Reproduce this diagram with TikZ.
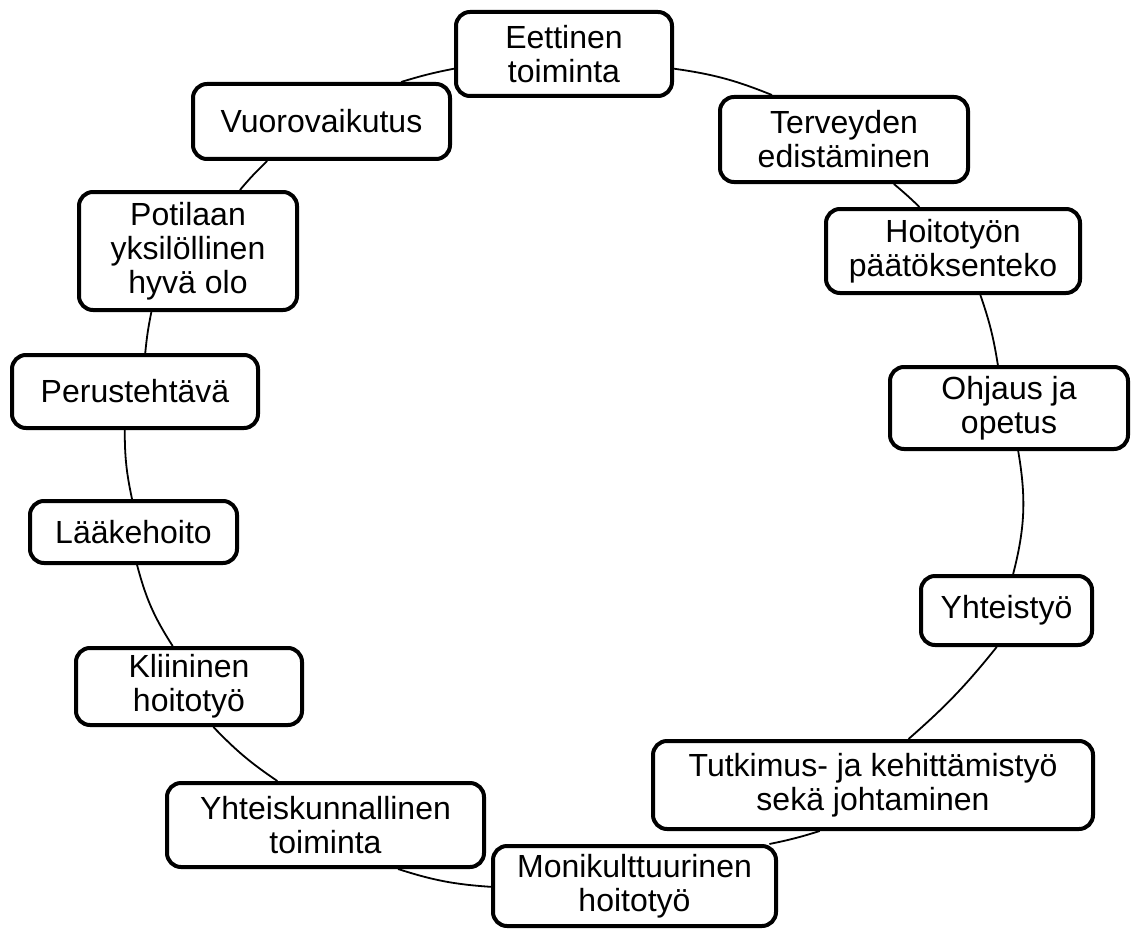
\documentclass[tikz,border=0pt]{standalone}
\usepackage{fontspec}
\setmainfont{Liberation Sans}
\usetikzlibrary{calc,backgrounds}
\begin{document}
\begin{tikzpicture}[x=1pt,y=-1pt,
  box/.style={draw=black, line width=4pt, rounded corners=14pt, fill=white,
    align=center, inner sep=0pt, font=\fontsize{32}{34}\selectfont},
  conn/.style={draw=black, line width=1.8pt}]
\useasboundingbox (0,0) rectangle (1131,928);
\node[box, minimum width=216pt, minimum height=84pt] (eet) at (564,54) {Eettinen\\toiminta};
\node[box, minimum width=248pt, minimum height=85pt] (ter) at (844,139.5) {Terveyden\\edistäminen};
\node[box, minimum width=254pt, minimum height=84pt] (hoi) at (953,251) {Hoitotyön\\päätöksenteko};
\node[box, minimum width=238pt, minimum height=82pt] (ohj) at (1009,408) {Ohjaus ja\\opetus};
\node[box, minimum width=171pt, minimum height=69pt] (yht) at (1006.5,610.5) {Yhteistyö};
\node[box, minimum width=440pt, minimum height=88pt] (tut) at (873,785) {Tutkimus- ja kehittämistyö\\sekä johtaminen};
\node[box, minimum width=283pt, minimum height=80pt] (mon) at (634.5,886) {Monikulttuurinen\\hoitotyö};
\node[box, minimum width=317pt, minimum height=84pt] (yks) at (325.5,825) {Yhteiskunnallinen\\toiminta};
\node[box, minimum width=226pt, minimum height=77pt] (kli) at (189,686.5) {Kliininen\\hoitotyö};
\node[box, minimum width=207pt, minimum height=62pt] (laa) at (133.5,532) {Lääkehoito};
\node[box, minimum width=246pt, minimum height=73pt] (per) at (135,391.5) {Perustehtävä};
\node[box, minimum width=218pt, minimum height=118pt] (pot) at (188,251) {Potilaan\\yksilöllinen\\hyvä olo};
\node[box, minimum width=257pt, minimum height=75pt] (vuo) at (321.5,121.5) {Vuorovaikutus};
\begin{pgfonlayer}{background}
\draw[conn] ($(vuo.north west)!0.805!(vuo.north east)$) to[bend left=3] ($(eet.north west)!0.667!(eet.south west)$);
\draw[conn] ($(eet.north east)!0.667!(eet.south east)$) to[bend left=7] ($(ter.north west)!0.214!(ter.north east)$);
\draw[conn] ($(ter.south west)!0.698!(ter.south east)$) to[bend left=2] ($(hoi.north west)!0.370!(hoi.north east)$);
\draw[conn] ($(hoi.south west)!0.606!(hoi.south east)$) to[bend left=5] ($(ohj.north west)!0.454!(ohj.north east)$);
\draw[conn] ($(ohj.south west)!0.538!(ohj.south east)$) to[bend left=12] ($(yht.north west)!0.538!(yht.north east)$);
\draw[conn] ($(yht.south west)!0.444!(yht.south east)$) to[bend left=5] ($(tut.north west)!0.580!(tut.north east)$);
\draw[conn] ($(tut.south west)!0.380!(tut.south east)$) to[bend left=3] ($(mon.north west)!0.97!(mon.north east)$);
\draw[conn] ($(mon.north west)!0.51!(mon.south west)$) to[bend left=7] ($(yks.south west)!0.726!(yks.south east)$);
\draw[conn] ($(yks.north west)!0.350!(yks.north east)$) to[bend left=6] ($(kli.south west)!0.606!(kli.south east)$);
\draw[conn] ($(kli.north west)!0.429!(kli.north east)$) to[bend left=9] ($(laa.south west)!0.517!(laa.south east)$);
\draw[conn] ($(laa.north west)!0.493!(laa.north east)$) to[bend left=6] ($(per.south west)!0.459!(per.south east)$);
\draw[conn] ($(per.north west)!0.541!(per.north east)$) to[bend left=3] ($(pot.south west)!0.335!(pot.south east)$);
\draw[conn] ($(pot.north west)!0.734!(pot.north east)$) to[bend left=3] ($(vuo.south west)!0.292!(vuo.south east)$);
\end{pgfonlayer}
\end{tikzpicture}
\end{document}
